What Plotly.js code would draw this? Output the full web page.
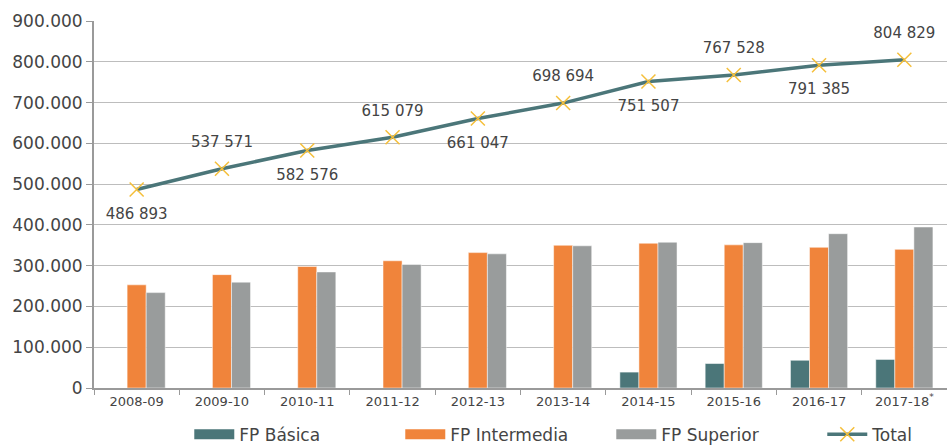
<!DOCTYPE html>
<html>
<head>
<meta charset="utf-8">
<script src="https://cdn.plot.ly/plotly-3.0.1.min.js"></script>
<style>html,body{margin:0;padding:0;background:#fff;}#chart{width:947px;height:445px;}</style>
</head>
<body>
<div id="chart"></div>
<script>
var categories = ["2008-09","2009-10","2010-11","2011-12","2012-13","2013-14","2014-15","2015-16","2016-17","2017-18*"];
var fpBasica = [0, 0, 0, 0, 0, 0, 39000, 60000, 68000, 70000];
var fpIntermedia = [253000, 278000, 298000, 312000, 332000, 350000, 355000, 351000, 345000, 340000];
var fpSuperior = [233900, 259600, 284600, 303100, 329000, 348700, 357500, 356500, 378400, 394800];
var total = [486893, 537571, 582576, 615079, 661047, 698694, 751507, 767528, 791385, 804829];
var totalLabelPos = ["bottom center","top center","bottom center","top center","bottom center","top center","bottom center","top center","bottom center","top center"];

var seriesNames = ["FP Básica", "FP Intermedia", "FP Superior"];
var seriesColors = ["#4b7679", "#f0843b", "#999c9c"];

function fmtSpace(v){ return String(v).replace(/\B(?=(\d{3})+(?!\d))/g, " "); }
var xLabels = categories.map(function(c){ return c.replace("*", "<sup>*</sup>"); });

var FONT = "DejaVu Sans, sans-serif";
var barValues = [fpBasica, fpIntermedia, fpSuperior];
var traces = [];
// legend-only entries drawn as wide rectangles (thick line swatches)
seriesNames.forEach(function(n, i){
  traces.push({type:"scatter", mode:"lines", name:n, x:[null], y:[null],
               line:{color:seriesColors[i], width:10}, hoverinfo:"none", legendrank:i+1});
});
seriesNames.forEach(function(n, i){
  traces.push({type:"bar", name:n, showlegend:false, x:xLabels, y:barValues[i],
               marker:{color:seriesColors[i], line:{color:"#ffffff", width:0.5}}, hoverinfo:"none"});
});
traces.push({type:"scatter", mode:"lines+markers", name:"Total", x:xLabels, y:total,
   line:{color:"#4b7679", width:3.5},
   marker:{symbol:"x-thin-open", size:14, color:"#f5bf3a", line:{color:"#f5bf3a", width:1.5}},
   cliponaxis:false, hoverinfo:"none", legendrank:4});
traces.push({type:"scatter", mode:"markers+text", name:"Total labels", showlegend:false, x:xLabels, y:total,
   marker:{size:27, opacity:0, color:"#ffffff"},
   text: total.map(fmtSpace), textposition: totalLabelPos,
   textfont:{family:FONT, size:15, color:"#444"}, cliponaxis:false, hoverinfo:"none"});

var layout = {
  width:947, height:445,
  margin:{l:94, r:0, t:21, b:57, autoexpand:false},
  paper_bgcolor:"#fff", plot_bgcolor:"#fff",
  separators:",.",
  barmode:"group", bargap:0.33, bargroupgap:0,
  font:{family:FONT, color:"#444"},
  showlegend:true,
  legend:{orientation:"h", x:0.1117, xanchor:"left", y:-0.127, yanchor:"middle",
          font:{family:FONT, size:17, color:"#444"}, entrywidth:156, entrywidthmode:"pixels",
          traceorder:"normal", itemwidth:40},
  xaxis:{type:"category", range:[-0.5, 9.5], showgrid:false, showline:true, linecolor:"#9a9a9a", linewidth:2,
         ticks:"outside", tickson:"boundaries", ticklen:5, tickcolor:"#9a9a9a", tickwidth:1,
         tickfont:{family:FONT, size:13, color:"#444"}, fixedrange:true},
  yaxis:{range:[0, 900000], dtick:100000, tickformat:",d", showgrid:true, gridcolor:"#bdbdbd", gridwidth:1,
         showline:true, linecolor:"#9a9a9a", linewidth:2, ticks:"outside", ticklen:6, tickcolor:"#9a9a9a",
         zeroline:false, tickfont:{family:FONT, size:17, color:"#444"}, fixedrange:true}
};

Plotly.newPlot("chart", traces, layout, {displayModeBar:false, staticPlot:true});
</script>
</body>
</html>
